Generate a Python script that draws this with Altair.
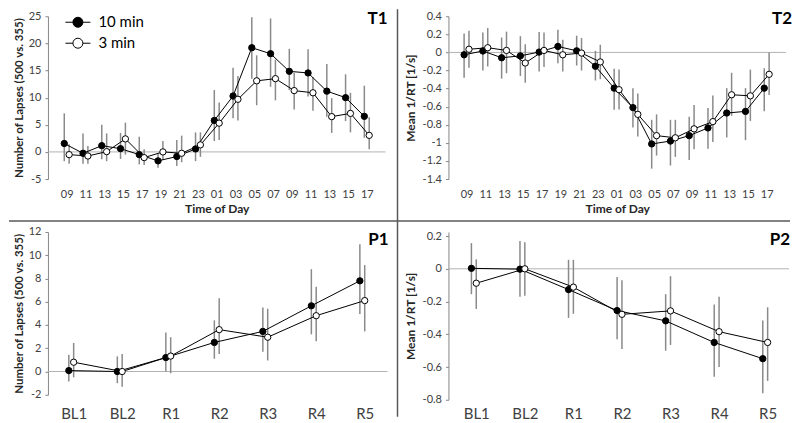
import json
import altair as alt
import pandas as pd

FONT = "Lato"
SERIES = ["10 min", "3 min"]
T_LABELS = ["09", "11", "13", "15", "17", "19", "21", "23", "01", "03", "05", "07", "09", "11", "13", "15", "17"]
P_LABELS = ["BL1", "BL2", "R1", "R2", "R3", "R4", "R5"]

# T1: Number of Lapses (500 vs. 355)
T1_10_MEAN = [1.55, -0.25, 1.15, 0.6, -0.5, -1.65, -0.85, 0.55, 5.8, 10.3, 19.2, 18.1, 14.85, 14.55, 11.2, 10.0, 6.55]
T1_10_LO = [-1.7, -2.2, -1.35, -1.3, -2.3, -2.9, -2.6, -1.7, 2.0, 6.2, 13.5, 12.0, 11.4, 10.2, 6.5, 5.7, 2.6]
T1_10_HI = [7.1, 3.4, 5.0, 3.5, 2.8, -0.4, 2.2, 3.6, 11.4, 15.5, 24.8, 24.6, 19.0, 18.9, 16.2, 14.3, 12.2]
T1_3_MEAN = [-0.5, -0.75, 0.05, 2.4, -1.05, 0.0, -0.25, 1.3, 5.3, 9.7, 13.1, 13.5, 11.3, 10.9, 6.5, 7.1, 3.05]
T1_3_LO = [-2.2, -2.2, -1.7, -0.5, -2.4, -1.5, -1.9, -0.9, 2.2, 5.8, 8.6, 9.5, 7.8, 7.6, 3.5, 3.6, 0.5]
T1_3_HI = [1.4, 1.1, 3.4, 5.4, 0.5, 2.0, 3.0, 3.6, 9.1, 14.0, 17.8, 17.0, 14.6, 13.8, 9.9, 10.9, 6.4]

# T2: Mean 1/RT [1/s]
T2_10_MEAN = [-0.026, 0.016, -0.059, -0.038, 0.004, 0.066, 0.018, -0.153, -0.395, -0.61, -1.012, -0.98, -0.92, -0.835, -0.67, -0.652, -0.395]
T2_10_LO = [-0.28, -0.2, -0.29, -0.26, -0.21, -0.12, -0.145, -0.31, -0.635, -0.83, -1.285, -1.25, -1.19, -1.065, -0.94, -0.97, -0.65]
T2_10_HI = [0.21, 0.22, 0.165, 0.18, 0.225, 0.25, 0.185, 0.018, -0.18, -0.395, -0.745, -0.745, -0.71, -0.615, -0.395, -0.395, -0.175]
T2_3_MEAN = [0.035, 0.052, 0.022, -0.117, 0.022, -0.026, -0.007, -0.105, -0.412, -0.685, -0.92, -0.944, -0.845, -0.765, -0.468, -0.48, -0.242]
T2_3_LO = [-0.17, -0.155, -0.23, -0.335, -0.16, -0.21, -0.2, -0.295, -0.63, -0.93, -1.14, -1.155, -1.07, -0.99, -0.70, -0.757, -0.47]
T2_3_HI = [0.24, 0.27, 0.23, 0.09, 0.22, 0.14, 0.16, 0.085, -0.19, -0.455, -0.685, -0.745, -0.58, -0.475, -0.225, -0.19, 0.0]

# P1: Number of Lapses (500 vs. 355)
P1_10_MEAN = [0.08, 0.0, 1.2, 2.5, 3.45, 5.65, 7.8]
P1_10_LO = [-0.85, -1.0, 0.0, 1.1, 1.7, 3.2, 4.95]
P1_10_HI = [1.45, 1.3, 3.35, 4.4, 5.5, 8.8, 10.95]
P1_3_MEAN = [0.8, 0.0, 1.33, 3.6, 2.95, 4.8, 6.1]
P1_3_LO = [-0.5, -1.3, -0.15, 1.5, 0.95, 2.6, 3.45]
P1_3_HI = [2.45, 1.5, 2.95, 6.3, 5.4, 7.3, 9.15]

# P2: Mean 1/RT [1/s]
P2_10_MEAN = [0.003, -0.002, -0.127, -0.255, -0.318, -0.45, -0.549]
P2_10_LO = [-0.155, -0.17, -0.30, -0.43, -0.5, -0.66, -0.76]
P2_10_HI = [0.157, 0.17, 0.055, -0.05, -0.155, -0.218, -0.316]
P2_3_MEAN = [-0.088, 0.0, -0.112, -0.278, -0.257, -0.384, -0.45]
P2_3_LO = [-0.245, -0.165, -0.275, -0.49, -0.465, -0.6, -0.685]
P2_3_HI = [0.058, 0.163, 0.055, -0.07, -0.045, -0.17, -0.235]

T1_TICKS = [-5, 0, 5, 10, 15, 20, 25]
T2_TICKS = [-1.4, -1.2, -1.0, -0.8, -0.6, -0.4, -0.2, 0.0, 0.2, 0.4]
P1_TICKS = [-2, 0, 2, 4, 6, 8, 10, 12]
P2_TICKS = [-0.8, -0.6, -0.4, -0.2, 0.0, 0.2]

LAPSES = "Number of Lapses (500 vs. 355)"
RT = "Mean 1/RT [1/s]"

LEGEND_PATH = "M-2.5,0L-1,0M1,0L2.5,0M1,0A1,1,0,1,1,-1,0A1,1,0,1,1,1,0Z"
NUM_EXPR = "replace(format(datum.value, '.1~f'), '\u2212', '-')"


def make_df(labels, m10, lo10, hi10, m3, lo3, hi3, off10, off3):
    rows = []
    for name, m, lo, hi, off in ((SERIES[0], m10, lo10, hi10, off10), (SERIES[1], m3, lo3, hi3, off3)):
        for i in range(len(labels)):
            rows.append({"series": name, "pos": i + off, "mean": m[i], "lo": lo[i], "hi": hi[i]})
    return pd.DataFrame(rows)


def panel(df, labels, xdom, ydom, yticks, ytitle, w, h, tag, tag_x, tag_y,
          xlab_size, xlab_pad, xtitle, ytitle_pad, ytitle_size, legend, extras):
    xaxis = alt.Axis(values=list(range(len(labels))), labelExpr=json.dumps(labels) + "[datum.value]",
                     domain=False, ticks=False, tickSize=0, grid=False, labelFont=FONT,
                     labelFontSize=xlab_size, labelColor="#404040", labelPadding=xlab_pad,
                     labelFlush=False, labelOverlap=False, title=xtitle, titleFont=FONT,
                     titleFontSize=12, titleFontWeight="bold", titleColor="#262626", titlePadding=4)
    yaxis = alt.Axis(values=yticks, labelExpr=NUM_EXPR, grid=False, domainColor="#868686",
                     tickColor="#868686", tickSize=3, labelPadding=4, labelFont=FONT,
                     labelFontSize=11, labelColor="#404040", title=ytitle, titleFont=FONT,
                     titleFontSize=ytitle_size, titleFontWeight="bold", titleColor="#262626",
                     titlePadding=ytitle_pad, labelFlush=False, labelOverlap=False)
    xs = alt.Scale(domain=xdom, nice=False, zero=False)
    ys = alt.Scale(domain=ydom, nice=False, zero=False)

    def X(f="pos"):
        return alt.X(f + ":Q", scale=xs, axis=xaxis)

    def Y(f):
        return alt.Y(f + ":Q", scale=ys, axis=yaxis)

    base = alt.Chart(df)
    zero = alt.Chart(pd.DataFrame({"z": [0.0]})).mark_rule(color="#b3b3b3", strokeWidth=1).encode(y=Y("z"))
    bars = base.mark_rule(color="#8a8a8a", strokeWidth=1.5).encode(x=X(), y=Y("lo"), y2="hi:Q")
    lines = base.mark_line(color="black", strokeWidth=1).encode(x=X(), y=Y("mean"), detail="series:N")
    pts = base.mark_point(filled=True, size=40, opacity=1, stroke="black", strokeWidth=1).encode(
        x=X(), y=Y("mean"),
        fill=alt.Fill("series:N", scale=alt.Scale(domain=SERIES, range=["black", "white"]),
                      legend=legend))
    txt = alt.Chart(pd.DataFrame({"t": [tag]})).mark_text(
        align="right", baseline="middle", font=FONT, fontSize=17, fontWeight="bold", color="black"
    ).encode(text="t:N", x=alt.value(tag_x), y=alt.value(tag_y))
    layers = [zero, bars, lines, pts, txt] + extras
    return alt.layer(*layers).properties(width=w, height=h)


one = pd.DataFrame({"z": [0]})
SEP = dict(color="#595959", strokeWidth=1.5)
sep_h = alt.Chart(one).mark_rule(**SEP).encode(x=alt.value(-39), x2=alt.value(743), y=alt.value(205))
sep_v = alt.Chart(one).mark_rule(**SEP).encode(x=alt.value(350), y=alt.value(-7), y2=alt.value(401))

legend = alt.Legend(title=None, orient="none", legendX=22.5, legendY=-1.5, padding=0,
                    symbolType=LEGEND_PATH, symbolSize=100, symbolStrokeColor="black",
                    symbolStrokeWidth=1, symbolOpacity=1, labelFont=FONT, labelFontSize=15,
                    labelColor="black", labelOffset=13, rowPadding=5,
                    labelExpr="datum.label == '3 min' ? '\u2007' + datum.label : datum.label")

t1 = panel(make_df(T_LABELS, T1_10_MEAN, T1_10_LO, T1_10_HI, T1_3_MEAN, T1_3_LO, T1_3_HI, -0.13, 0.13),
           T_LABELS, [-1, 17], [-5, 25], T1_TICKS, LAPSES, 338, 163, "T1", 340, 3,
           11, 9, "Time of Day", 4, 11.5, legend, [sep_h, sep_v])
t2 = panel(make_df(T_LABELS, T2_10_MEAN, T2_10_LO, T2_10_HI, T2_3_MEAN, T2_3_LO, T2_3_HI, -0.13, 0.13),
           T_LABELS, [-0.965, 17.03], [-1.4, 0.4], T2_TICKS, RT, 338, 163, "T2", 344, 3,
           11, 9, "Time of Day", 5, 12, None, [])
p1 = panel(make_df(P_LABELS, P1_10_MEAN, P1_10_LO, P1_10_HI, P1_3_MEAN, P1_3_LO, P1_3_HI, -0.1, 0.0),
           P_LABELS, [-0.53, 6.47], [-2, 12], P1_TICKS, LAPSES, 340, 163, "P1", 341, 8,
           15, 12, None, 4, 11.5, None, [])
p2 = panel(make_df(P_LABELS, P2_10_MEAN, P2_10_LO, P2_10_HI, P2_3_MEAN, P2_3_LO, P2_3_HI, -0.1, 0.0),
           P_LABELS, [-0.573, 6.44], [-0.8, 0.225], P2_TICKS, RT, 341, 168, "P2", 342, 8,
           15, 7, None, 5, 12, None, [])

chart = alt.concat(t1, t2, p1, p2, columns=2, spacing={"row": 53, "column": 61}).properties(
    bounds="flush", align="none", padding=0
).resolve_scale(fill="independent").resolve_legend(fill="independent").configure_view(stroke=None)

chart.save("out.html", embed_options={"renderer": "svg", "actions": False})
